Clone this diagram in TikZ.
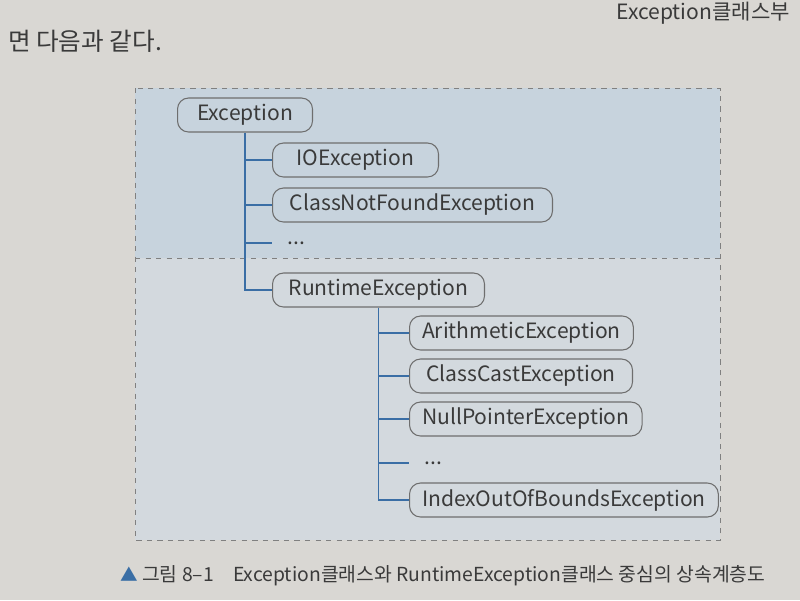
\documentclass[tikz,border=0pt]{standalone}
\usepackage{fontspec}
\setmainfont{Noto Sans CJK KR}
\usetikzlibrary{positioning}
\definecolor{pagebg}{HTML}{D9D7D3}
\definecolor{topbg}{HTML}{C7D3DD}
\definecolor{lowbg}{HTML}{D3D9DE}
\definecolor{treeline}{HTML}{3A6EA5}
\definecolor{boxline}{HTML}{6E6E6E}
\definecolor{inktext}{HTML}{3A3A3A}

\begin{document}
\begin{tikzpicture}[x=0.02cm,y=-0.02cm]
    \tikzstyle{exc}=[draw=boxline,line width=0.6pt,rounded corners=0.22cm,minimum height=0.68cm,inner xsep=0.25cm,anchor=west,text=inktext,font=\fontsize{12}{14}\selectfont]
    \tikzstyle{dots}=[anchor=west,inner xsep=0.3cm,text=inktext,font=\fontsize{12}{14}\selectfont]
    \tikzstyle{branch}=[treeline,line width=1.1pt]

    % page and panel
    \useasboundingbox (0,0) rectangle (800,600);
    \fill[pagebg] (0,0) rectangle (800,600);
    \fill[topbg] (135,88) rectangle (720,258);
    \fill[lowbg] (135,258) rectangle (720,540);
    \draw[gray,dashed,line width=0.4pt] (135,88) rectangle (720,540);
    \draw[gray,dashed,line width=0.4pt] (135,258) -- (720,258);

    % running text
    \node[anchor=base east,text=inktext,font=\fontsize{12}{14}\selectfont] (top) at (796,19) {Exception클래스부};
    \node[anchor=base west,text=inktext,font=\fontsize{14}{16}\selectfont] (intro) at (2,50) {면 다음과 같다.};

    % nodes
    \node[exc,minimum width=2.7cm] (e0) at (177,115) {Exception};
    \node[exc,minimum width=3.32cm] (e1) at (272,160) {IOException};
    \node[exc,minimum width=5.6cm] (e2) at (272,205) {ClassNotFoundException};
    \node[dots] (e3) at (272,243) {...};
    \node[exc,minimum width=4.24cm] (e4) at (272,290) {RuntimeException};

    \node[exc,minimum width=4.46cm] (r1) at (409,333) {ArithmeticException};
    \node[exc,minimum width=4.46cm] (r2) at (409,376) {ClassCastException};
    \node[exc,minimum width=4.58cm] (r3) at (409,419) {NullPointerException};
    \node[dots] (r4) at (409,463) {...};
    \node[exc] (r5) at (409,500) {IndexOutOfBoundsException};

    % tree lines
    \draw[branch] (e0.south) |- (e4.west);
    \foreach \n in {e1,e2,e3} {
        \draw[branch] (e0.south |- \n.west) -- (\n.west);
    }
    \draw[branch] (e4.south) |- (r5.west);
    \foreach \n in {r1,r2,r3,r4} {
        \draw[branch] (e4.south |- \n.west) -- (\n.west);
    }

    % caption
    \node[anchor=base west,text=treeline,font=\fontsize{10}{12}\selectfont] (tri) at (114,581) {▲};
    \node[anchor=base west,text=inktext,font=\fontsize{11}{14}\selectfont] (cap) at (136,581) {그림 8–1\hspace{1em}Exception클래스와 RuntimeException클래스 중심의 상속계층도};
\end{tikzpicture}
\end{document}
